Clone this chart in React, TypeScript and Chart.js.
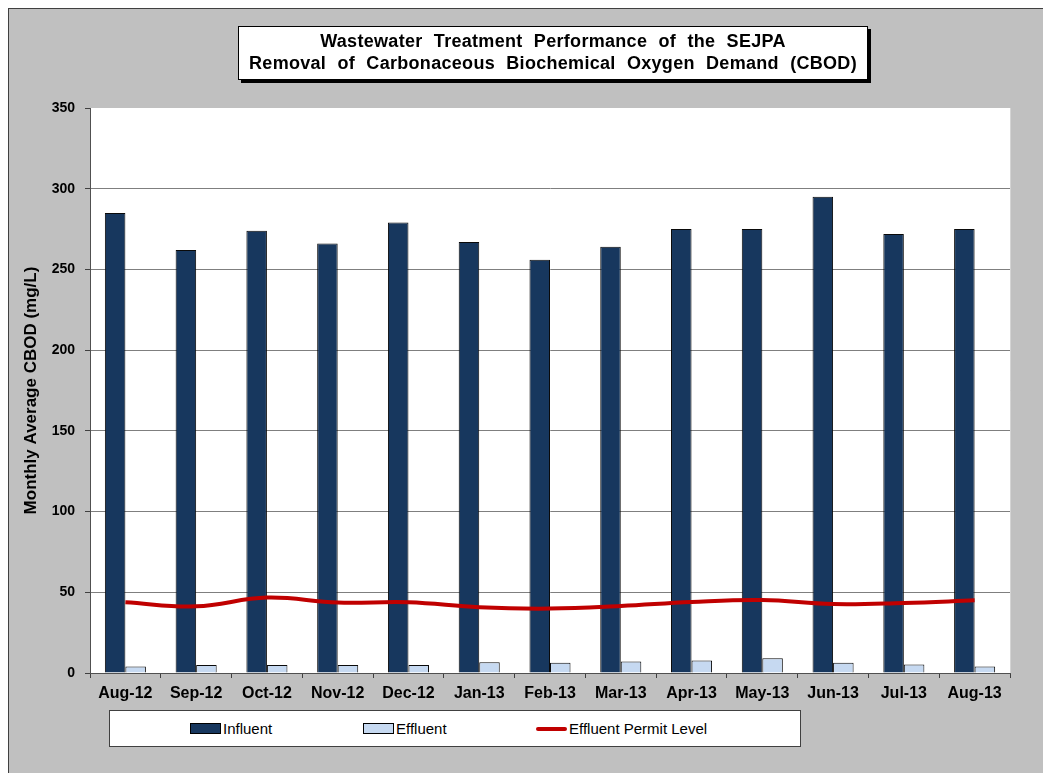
import React, { useEffect, useRef } from "react";
import { Chart, registerables } from "chart.js";

Chart.register(...registerables);

const titleLines = [
  "Wastewater Treatment Performance of the SEJPA",
  "Removal of Carbonaceous Biochemical Oxygen Demand (CBOD)",
];
const yAxisTitle = "Monthly Average CBOD (mg/L)";
const categories = [
  "Aug-12", "Sep-12", "Oct-12", "Nov-12", "Dec-12", "Jan-13", "Feb-13",
  "Mar-13", "Apr-13", "May-13", "Jun-13", "Jul-13", "Aug-13",
];
const influent = [285, 262, 274, 266, 279, 267, 256, 264, 275, 275, 295, 272, 275];
const effluent = [4.1, 5, 5, 5, 5, 6.6, 6.4, 7.2, 7.8, 9.1, 6.4, 5.2, 4.1];
const permitLevel = [43.8, 41.3, 46.7, 43.6, 43.8, 40.7, 39.9, 41.5, 44, 45.2, 42.7, 43.4, 45];
const seriesNames = ["Influent", "Effluent", "Effluent Permit Level"];
const yMin = 0;
const yMax = 350;
const yStep = 50;

const FONT = "'Liberation Sans', Arial, Helvetica, sans-serif";
const INFLUENT_COLOR = "#17375e";
const EFFLUENT_COLOR = "#c6d9f1";
const PERMIT_COLOR = "#c00000";

const plotBg = {
  id: "plotBg",
  beforeDraw(chart: any) {
    const { ctx, chartArea } = chart;
    ctx.save();
    ctx.fillStyle = "#ffffff";
    ctx.fillRect(chartArea.left, chartArea.top, chartArea.right - chartArea.left, chartArea.bottom - chartArea.top);
    ctx.strokeStyle = "#d4d4d4";
    ctx.lineWidth = 1;
    ctx.beginPath();
    ctx.moveTo(chartArea.right + 0.5, chartArea.top);
    ctx.lineTo(chartArea.right + 0.5, chartArea.bottom);
    ctx.stroke();
    ctx.restore();
  },
};

export default function App() {
  const canvasRef = useRef<HTMLCanvasElement | null>(null);

  useEffect(() => {
    document.body.style.overflow = "hidden";
    if (!canvasRef.current) return;
    const chart = new Chart(canvasRef.current, {
      type: "bar",
      data: {
        labels: categories,
        datasets: [
          {
            type: "line",
            label: seriesNames[2],
            data: permitLevel,
            borderColor: PERMIT_COLOR,
            backgroundColor: PERMIT_COLOR,
            borderWidth: 4,
            pointRadius: 0,
            tension: 0.4,
            order: 0,
          } as any,
          {
            label: seriesNames[0],
            data: influent,
            backgroundColor: INFLUENT_COLOR,
            borderColor: "#0a0a0a",
            borderWidth: 1,
            categoryPercentage: 0.58,
            barPercentage: 1,
            order: 1,
          },
          {
            label: seriesNames[1],
            data: effluent,
            backgroundColor: EFFLUENT_COLOR,
            borderColor: "#0a0a0a",
            borderWidth: 1,
            categoryPercentage: 0.58,
            barPercentage: 1,
            order: 1,
          },
        ],
      },
      options: {
        responsive: false,
        animation: false,
        devicePixelRatio: 1,
        layout: { padding: { left: 0, right: 41, top: 99, bottom: 60 } },
        plugins: {
          legend: { display: false },
          title: { display: false },
          tooltip: { enabled: false },
        },
        scales: {
          x: {
            offset: true,
            afterFit: (s: any) => { s.height = 40; },
            grid: {
              offset: true,
              drawOnChartArea: false,
              drawTicks: true,
              tickLength: 5,
              color: "#404040",
              tickColor: "#404040",
            },
            border: { color: "#505050", width: 1 },
            ticks: {
              color: "#000",
              font: { family: FONT, size: 16, weight: "bold" },
              padding: 6,
              maxRotation: 0,
              autoSkip: false,
            },
          },
          y: {
            min: yMin,
            max: yMax,
            afterFit: (s: any) => { s.width = 81; },
            grid: {
              color: (c: any) => (c.tick && c.tick.value === yMax ? "rgba(0,0,0,0)" : "#7f7f7f"),
              tickColor: "#404040",
              tickLength: 5,
              drawTicks: true,
            },
            border: { color: "#505050", width: 1 },
            ticks: {
              stepSize: yStep,
              color: "#000",
              padding: 10,
              font: { family: FONT, size: 14, weight: "bold" },
            },
            title: {
              display: true,
              text: yAxisTitle,
              color: "#000",
              font: { family: FONT, size: 17, weight: "bold" },
              padding: { top: 12, bottom: 0 },
            },
          },
        },
      },
      plugins: [plotBg],
    });
    return () => chart.destroy();
  }, []);

  const legendItems = [
    { name: seriesNames[0], left: 80, kind: "box", color: INFLUENT_COLOR },
    { name: seriesNames[1], left: 253, kind: "box", color: EFFLUENT_COLOR },
    { name: seriesNames[2], left: 426, kind: "line", color: PERMIT_COLOR },
  ];

  return (
    <div
      style={{
        position: "relative",
        width: 1060,
        height: 780,
        background: "#c0c0c0",
        borderLeft: "1px solid #404040",
        borderTop: "1px solid #404040",
        overflow: "hidden",
        fontFamily: FONT,
      }}
    >
      <canvas ref={canvasRef} width={1042} height={764} style={{ position: "absolute", left: 0, top: 0 }} />
      <div
        style={{
          position: "absolute",
          left: 229,
          top: 17,
          width: 628,
          height: 49,
          background: "#fff",
          border: "1px solid #000",
          boxShadow: "3px 3px 0 #000",
          textAlign: "center",
          fontWeight: "bold",
          fontSize: 18,
          lineHeight: "22px",
          color: "#000",
          paddingTop: 3,
          boxSizing: "content-box",
          wordSpacing: 6,
          letterSpacing: 0.3,
          whiteSpace: "nowrap",
        }}
      >
        {titleLines.map((t, i) => (
          <div key={i}>{t}</div>
        ))}
      </div>
      <div
        style={{
          position: "absolute",
          left: 100,
          top: 701,
          width: 690,
          height: 35,
          background: "#fff",
          border: "1px solid #404040",
        }}
      >
        {legendItems.map((it, i) => (
          <div
            key={i}
            style={{
              position: "absolute",
              left: it.left,
              top: 0,
              height: 35,
              display: "flex",
              alignItems: "center",
              fontSize: 15,
              color: "#000",
              whiteSpace: "nowrap",
            }}
          >
            {it.kind === "box" ? (
              <span
                style={{
                  display: "inline-block",
                  width: 29,
                  height: 9,
                  background: it.color,
                  border: "1px solid #000",
                  marginRight: 2,
                }}
              />
            ) : (
              <span
                style={{
                  display: "inline-block",
                  width: 31,
                  height: 4,
                  background: it.color,
                  borderRadius: 2,
                  marginRight: 2,
                }}
              />
            )}
            <span>{it.name}</span>
          </div>
        ))}
      </div>
    </div>
  );
}
